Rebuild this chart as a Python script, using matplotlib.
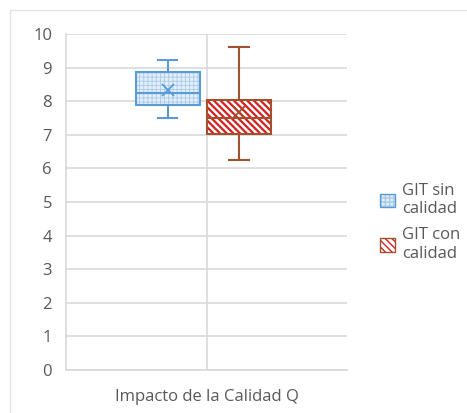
import matplotlib.pyplot as plt
from matplotlib.patches import PathPatch, Rectangle

plt.rcParams['font.family'] = ['Open Sans', 'DejaVu Sans']

# datos
series = ['GIT sin\ncalidad', 'GIT con\ncalidad']
whislo = [7.49, 6.25]
q1 = [7.89, 7.01]
med = [8.25, 7.49]
q3 = [8.88, 8.05]
whishi = [9.23, 9.62]
mean = [8.33, 7.67]
categoria = 'Impacto de la Calidad Q'

edge_cols = ['#5b9bd5', '#a0522d']
face_cols = ['#e3eef9', 'white']
hatch_cols = ['#a9cbea', '#d42020']
hatches = ['+' * 4, '\\' * 5]
hatch_lw = [0.6, 1.6]

fig = plt.figure(figsize=(4.67, 4.13), dpi=100)
ax = fig.add_axes([66/467, 1-370/413, 281/467, 336/413])

stats = []
for i in range(len(series)):
    stats.append({'whislo': whislo[i], 'q1': q1[i], 'med': med[i], 'q3': q3[i],
                  'whishi': whishi[i], 'mean': mean[i], 'fliers': []})

handles = []
for i, st in enumerate(stats):
    pos = [0.3625, 0.6155][i]
    with plt.rc_context({'hatch.linewidth': hatch_lw[i]}):
        bp = ax.bxp([st], positions=[pos], widths=0.23, capwidths=0.068,
                    patch_artist=True, showmeans=True, zorder=3)
        box = bp['boxes'][0]
        box.set_facecolor(face_cols[i])
        box.set_edgecolor(hatch_cols[i])
        box.set_hatch(hatches[i])
        box.set_linewidth(0)
        h = Rectangle((0, 0), 1, 1, facecolor=face_cols[i], edgecolor=hatch_cols[i],
                      hatch=hatches[i], linewidth=0)
    h_edge = Rectangle((0, 0), 1, 1, fill=False, edgecolor=edge_cols[i], linewidth=1)
    ax.add_patch(PathPatch(box.get_path(), fill=False, edgecolor=edge_cols[i],
                           linewidth=1.5, zorder=4))
    for k in ['whiskers', 'caps', 'medians']:
        for ln in bp[k]:
            ln.set_color(edge_cols[i])
            ln.set_linewidth(1.5)
            ln.set_zorder(4)
    for m in bp['means']:
        m.set_marker('x')
        m.set_markeredgecolor(edge_cols[i])
        m.set_markersize(8)
        m.set_markeredgewidth(1.3)
        m.set_zorder(5)
    handles.append((h, h_edge))

ax.set_xlim(0, 1)
ax.set_ylim(0, 10)
ax.set_yticks(range(0, 11))
ax.set_xticks([0.5])
ax.set_xticklabels([categoria])
ax.tick_params(axis='both', length=0, labelsize=12, labelcolor='#595959')
ax.tick_params(axis='y', pad=10)
ax.tick_params(axis='x', pad=14)
ax.grid(True, color='#d9d9d9', linewidth=1.2, zorder=0)
ax.set_axisbelow(True)
for s in ['top', 'right']:
    ax.spines[s].set_visible(False)
for s in ['left', 'bottom']:
    ax.spines[s].set_color('#d9d9d9')
    ax.spines[s].set_linewidth(1.2)

fig.legend(handles, series, loc='upper left', bbox_to_anchor=(365/467, 1-168/413),
           frameon=False, fontsize=12, labelcolor='#595959', handlelength=0.9,
           handleheight=0.9, handletextpad=0.4, labelspacing=0.6)

fig.add_artist(Rectangle((10/467, -0.5), 2, 1.5 - 10/413, transform=fig.transFigure,
                         fill=False, edgecolor='#e3e3e3', linewidth=1))

fig.savefig('out.png', dpi=100)
